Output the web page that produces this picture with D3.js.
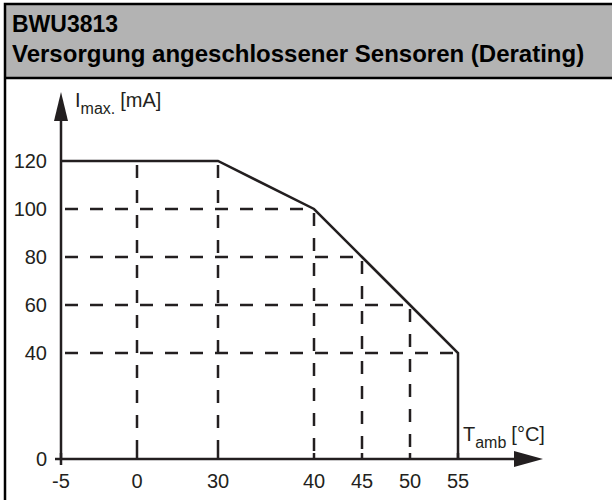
<!DOCTYPE html>
<html>
<head>
<meta charset="utf-8">
<script src="https://cdn.jsdelivr.net/npm/d3@7"></script>
<style>
  body { margin: 0; background: #fff; }
  text { font-family: "Liberation Sans", Arial, sans-serif; fill: #231f20; }
</style>
</head>
<body>
<div id="chart"></div>
<script>
const titleLines = ["BWU3813", "Versorgung angeschlossener Sensoren (Derating)"];
const xTicks = [-5, 0, 30, 40, 45, 50, 55];
const yTicks = [0, 40, 60, 80, 100, 120];
const tempC = [-5, 30, 40, 45, 50, 55, 55];
const currentMA = [120, 120, 100, 80, 60, 40, 0];
// guide lines: value pairs on the curve
const guideX = [0, 30, 40, 45, 50];
const guideXTop = [120, 120, 100, 80, 60];
const guideY = [100, 80, 60, 40];
const guideYEnd = [40, 45, 50, 55];

const width = 612, height = 500;
const ink = "#231f20";

const svg = d3.select("#chart").append("svg")
  .attr("width", width).attr("height", height);

// frame + header
svg.append("rect").attr("x", 5).attr("y", 4).attr("width", 620).attr("height", 74)
  .attr("fill", "#b3b3b3");
svg.append("path").attr("d", "M5,500V4H620").attr("fill", "none")
  .attr("stroke", "#000").attr("stroke-width", 2.5);
svg.append("line").attr("x1", 5).attr("x2", 612).attr("y1", 78).attr("y2", 78)
  .attr("stroke", "#000").attr("stroke-width", 2.5);

svg.selectAll(".title").data(titleLines).join("text")
  .attr("class", "title")
  .attr("x", 12).attr("y", (d, i) => 32 + i * 30)
  .attr("font-size", (d, i) => i === 0 ? 23 : 24).attr("font-weight", "bold")
  .style("fill", "#000")
  .text(d => d);

// piecewise scales (the axis is not drawn to scale in the original)
const x = d3.scaleLinear().domain([-5, 0, 30, 55]).range([61, 137, 218, 458]);
const y = d3.scaleLinear().domain([0, 40, 120]).range([459, 353, 161]);

// dashed guides
const dash = "13,12";
svg.selectAll(".vguide").data(guideX).join("line")
  .attr("class", "vguide")
  .attr("x1", d => x(d)).attr("x2", d => x(d))
  .attr("y1", (d, i) => y(guideXTop[i])).attr("y2", y(0))
  .attr("stroke", ink).attr("stroke-width", 2.5).attr("stroke-dasharray", dash)
  .attr("stroke-dashoffset", -4);
svg.selectAll(".hguide").data(guideY).join("line")
  .attr("class", "hguide")
  .attr("x1", x(-5)).attr("x2", (d, i) => x(guideYEnd[i]))
  .attr("y1", d => y(d)).attr("y2", d => y(d))
  .attr("stroke", ink).attr("stroke-width", 2.5).attr("stroke-dasharray", dash)
  .attr("stroke-dashoffset", -4);

// axes
svg.append("line").attr("x1", x(-5)).attr("x2", 520).attr("y1", y(0)).attr("y2", y(0))
  .attr("stroke", ink).attr("stroke-width", 2.5);
svg.append("path").attr("d", `M543,${y(0)}L514,${y(0) - 8}L514,${y(0) + 8}Z`).attr("fill", ink);
svg.append("line").attr("x1", x(-5)).attr("x2", x(-5)).attr("y1", y(0) + 6).attr("y2", 118)
  .attr("stroke", ink).attr("stroke-width", 2.5);
svg.append("path").attr("d", `M${x(-5)},92L${x(-5) - 7},121L${x(-5) + 7},121Z`).attr("fill", ink);

// tick marks
svg.selectAll(".xtick").data(xTicks).join("line")
  .attr("class", "xtick")
  .attr("x1", d => x(d)).attr("x2", d => x(d))
  .attr("y1", y(0) - 6).attr("y2", y(0))
  .attr("stroke", ink).attr("stroke-width", 2.5);
svg.append("line").attr("x1", x(-5) - 6).attr("x2", x(-5)).attr("y1", y(0)).attr("y2", y(0))
  .attr("stroke", ink).attr("stroke-width", 2.5);

// tick labels
svg.selectAll(".xlab").data(xTicks).join("text")
  .attr("class", "xlab")
  .attr("x", d => x(d)).attr("y", 488)
  .attr("text-anchor", "middle").attr("font-size", 20)
  .text(d => d);
svg.selectAll(".ylab").data(yTicks).join("text")
  .attr("class", "ylab")
  .attr("x", 47).attr("y", d => y(d) + 7)
  .attr("text-anchor", "end").attr("font-size", 20)
  .text(d => d);

// axis titles
const yt = svg.append("text").attr("x", 75).attr("y", 107).attr("font-size", 20);
yt.append("tspan").text("I");
yt.append("tspan").attr("dy", 7).attr("font-size", 16).text("max.");
yt.append("tspan").attr("dy", -7).attr("dx", 5).text("[mA]");

const xt = svg.append("text").attr("x", 463).attr("y", 441).attr("font-size", 20);
xt.append("tspan").text("T");
xt.append("tspan").attr("dy", 7).attr("font-size", 16).text("amb");
xt.append("tspan").attr("dy", -7).attr("dx", 5).text("[°C]");

// derating curve
const pts = tempC.map((t, i) => [t, currentMA[i]]);
svg.append("path")
  .datum(pts)
  .attr("d", d3.line().x(d => x(d[0])).y(d => y(d[1])))
  .attr("fill", "none").attr("stroke", ink).attr("stroke-width", 2.5)
  .attr("stroke-linejoin", "miter");
</script>
</body>
</html>
